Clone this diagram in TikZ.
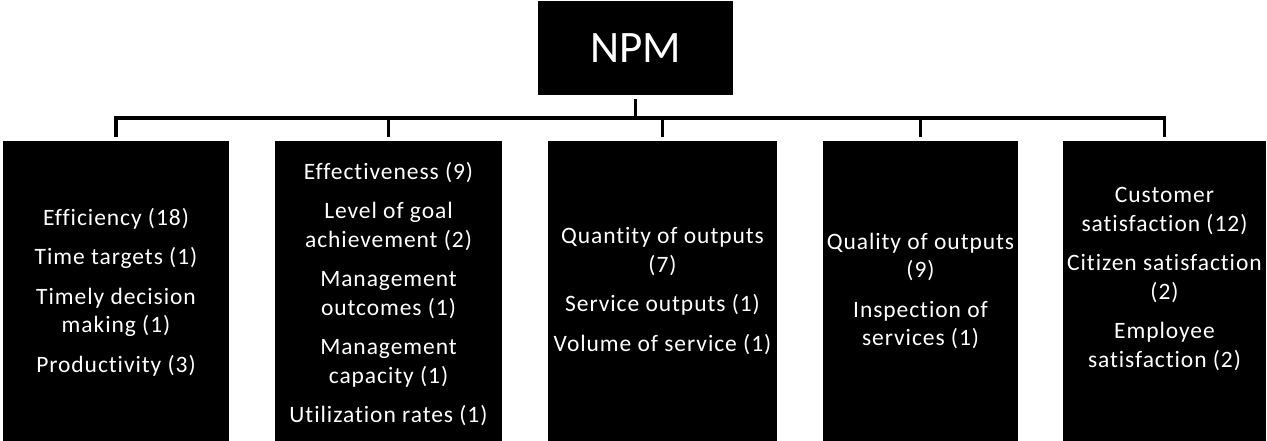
\documentclass[tikz,border=0pt]{standalone}
\usepackage{fontspec}
\setmainfont{Carlito}[Ligatures=NoCommon]
\newfontfamily\panelfont{Carlito}[Ligatures=NoCommon, LetterSpace=4]
\begin{document}
\begin{tikzpicture}[x=1pt,y=-1pt,
  panel/.style={fill=black, draw=none, inner sep=0pt, outer sep=0pt},
  label/.style={text=white, align=center, inner sep=0pt,
    font=\panelfont\fontsize{23.5}{28.5}\selectfont},
  link/.style={line width=3.5pt, draw=black}]
\useasboundingbox (0,0) rectangle (1267,441);

% root box
\node[panel, minimum width=195pt, minimum height=94pt] (npm) at (635.5,48) {};
\node[text=white, font=\fontsize{45}{54}\selectfont, inner sep=0pt] (npmt) at (635.5,48) {NPM};

% category panels
\node[panel, minimum width=226pt, minimum height=300pt] (b1) at (116,291) {};
\node[panel, minimum width=227pt, minimum height=300pt] (b2) at (388.5,291) {};
\node[panel, minimum width=229pt, minimum height=300pt] (b3) at (662.5,291) {};
\node[panel, minimum width=195pt, minimum height=300pt] (b4) at (920.5,291) {};
\node[panel, minimum width=203pt, minimum height=300pt] (b5) at (1164.5,291) {};

% panel texts
\node[label] (t1) at (116,292) {Efficiency (18)\\[11pt]Time targets (1)\\[11pt]Timely decision\\making (1)\\[11pt]Productivity (3)};
\node[label] (t2) at (388.5,294) {Effectiveness (9)\\[11pt]Level of goal\\achievement (2)\\[11pt]Management\\outcomes (1)\\[11pt]Management\\capacity (1)\\[11pt]Utilization rates (1)};
\node[label] (t3) at (662.5,291) {Quantity of outputs\\(7)\\[11pt]Service outputs (1)\\[11pt]Volume of service (1)};
\node[label] (t4) at (920.5,291) {Quality of outputs\\(9)\\[11pt]Inspection of\\services (1)};
\node[label] (t5) at (1164.5,279) {Customer\\satisfaction (12)\\[11pt]Citizen satisfaction\\(2)\\[11pt]Employee\\satisfaction (2)};

% connectors
\coordinate (bus) at (0,118);
\draw[link] ([yshift=-4pt]npm.south) -- (npm.south |- bus);
\draw[link] ([yshift=4pt]b1.north) -- (b1.north |- bus) -- (b5.north |- bus) -- ([yshift=4pt]b5.north);
\foreach \b in {b2,b3,b4}
  \draw[link] (\b.north |- bus) -- ([yshift=4pt]\b.north);
\end{tikzpicture}
\end{document}
